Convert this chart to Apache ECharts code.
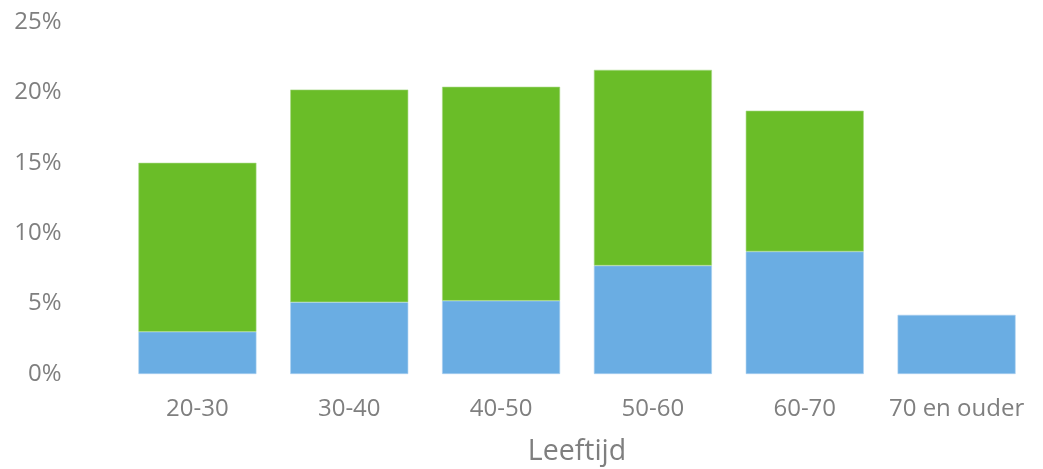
<!DOCTYPE html>
<html>
<head>
<meta charset="utf-8">
<script src="https://cdn.jsdelivr.net/npm/echarts@6/dist/echarts.min.js"></script>
<style>
  html, body { margin: 0; padding: 0; background: #ffffff; }
  #chart { width: 1043px; height: 469px; }
</style>
</head>
<body>
<div id="chart"></div>
<script>
// Age groups and share per group (percent)
const categories = ['20-30', '30-40', '40-50', '50-60', '60-70', '70 en ouder'];
const blueValues = [3.0, 5.1, 5.2, 7.7, 8.7, 4.2];
const greenValues = [12.0, 15.1, 15.2, 13.9, 10.0, 0];
const yTicks = [0, 5, 10, 15, 20, 25];

const labelColor = '#7f7f7f';
const fontFamily = '"Open Sans", "Noto Sans", sans-serif';

const chart = echarts.init(document.getElementById('chart'), null, { renderer: 'canvas' });

chart.setOption({
  animation: false,
  grid: { left: 121.5, right: 10.5, top: 22, bottom: 95, containLabel: false, outerBoundsMode: 'none' },
  xAxis: {
    type: 'category',
    data: categories,
    name: 'Leeftijd',
    nameLocation: 'middle',
    nameGap: 63,
    nameTextStyle: { color: labelColor, fontSize: 28.5, fontFamily: fontFamily },
    axisLine: { show: false },
    axisTick: { show: false },
    axisLabel: { color: labelColor, fontSize: 24, fontFamily: fontFamily, margin: 23, interval: 0 }
  },
  yAxis: {
    type: 'value',
    min: yTicks[0],
    max: yTicks[yTicks.length - 1],
    interval: 5,
    splitLine: { show: false },
    axisLine: { show: false },
    axisTick: { show: false },
    axisLabel: {
      color: labelColor, fontSize: 24, fontFamily: fontFamily, margin: 60,
      formatter: v => v + '%'
    }
  },
  series: [
    {
      type: 'bar',
      stack: 'total',
      data: blueValues,
      barWidth: 118,
      itemStyle: { color: '#6aade3', borderColor: '#a9d0f0', borderWidth: 0.6 }
    },
    {
      type: 'bar',
      stack: 'total',
      data: greenValues.map(v => (v === 0 ? null : v)),
      barWidth: 118,
      itemStyle: { color: '#6abd28', borderColor: '#a6d985', borderWidth: 0.6 }
    }
  ]
});
</script>
</body>
</html>
